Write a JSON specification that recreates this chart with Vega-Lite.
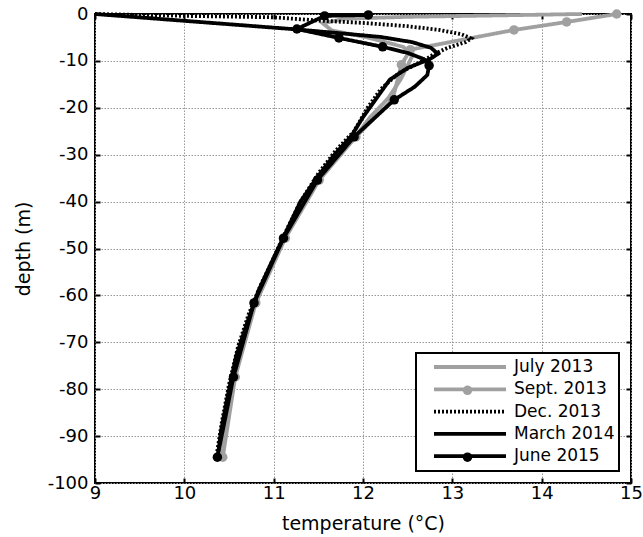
{
  "$schema": "https://vega.github.io/schema/vega-lite/v6.json",
  "width": 536,
  "height": 469,
  "autosize": {"type": "none"},
  "padding": {"left": 95, "top": 14, "right": 12, "bottom": 54},
  "background": "white",
  "datasets": {
    "profiles": [
      {"series": "July 2013", "temp": 14.45, "depth": 0},
      {"series": "July 2013", "temp": 13.5, "depth": -0.3},
      {"series": "July 2013", "temp": 12.5, "depth": -0.6},
      {"series": "July 2013", "temp": 11.8, "depth": -1.0},
      {"series": "July 2013", "temp": 11.55, "depth": -2.0},
      {"series": "July 2013", "temp": 11.65, "depth": -3.5},
      {"series": "July 2013", "temp": 12.05, "depth": -5.0},
      {"series": "July 2013", "temp": 12.45, "depth": -7.0},
      {"series": "July 2013", "temp": 12.55, "depth": -9.0},
      {"series": "July 2013", "temp": 12.5, "depth": -11},
      {"series": "July 2013", "temp": 12.42, "depth": -14},
      {"series": "July 2013", "temp": 12.28, "depth": -18},
      {"series": "July 2013", "temp": 12.08, "depth": -22},
      {"series": "July 2013", "temp": 11.92, "depth": -26},
      {"series": "July 2013", "temp": 11.72, "depth": -30},
      {"series": "July 2013", "temp": 11.52, "depth": -35},
      {"series": "July 2013", "temp": 11.33, "depth": -40},
      {"series": "July 2013", "temp": 11.14, "depth": -47},
      {"series": "July 2013", "temp": 11.04, "depth": -51},
      {"series": "July 2013", "temp": 10.88, "depth": -58},
      {"series": "July 2013", "temp": 10.75, "depth": -64},
      {"series": "July 2013", "temp": 10.63, "depth": -71},
      {"series": "July 2013", "temp": 10.53, "depth": -79},
      {"series": "July 2013", "temp": 10.46, "depth": -87},
      {"series": "July 2013", "temp": 10.43, "depth": -93},
      {"series": "July 2013", "temp": 10.43, "depth": -95},
      {"series": "Sept. 2013", "temp": 14.84, "depth": 0},
      {"series": "Sept. 2013", "temp": 14.28, "depth": -1.7},
      {"series": "Sept. 2013", "temp": 13.69, "depth": -3.4},
      {"series": "Sept. 2013", "temp": 12.53, "depth": -7.6},
      {"series": "Sept. 2013", "temp": 12.43, "depth": -10.8},
      {"series": "Sept. 2013", "temp": 12.33, "depth": -18.3},
      {"series": "Sept. 2013", "temp": 11.92, "depth": -26.2},
      {"series": "Sept. 2013", "temp": 11.51, "depth": -35.4},
      {"series": "Sept. 2013", "temp": 11.13, "depth": -47.8},
      {"series": "Sept. 2013", "temp": 10.8, "depth": -61.6},
      {"series": "Sept. 2013", "temp": 10.57, "depth": -77.4},
      {"series": "Sept. 2013", "temp": 10.43, "depth": -94.5},
      {"series": "Dec. 2013", "temp": 9.0, "depth": 0},
      {"series": "Dec. 2013", "temp": 10.0, "depth": -0.4},
      {"series": "Dec. 2013", "temp": 11.0, "depth": -0.7},
      {"series": "Dec. 2013", "temp": 11.5, "depth": -1.4},
      {"series": "Dec. 2013", "temp": 12.0, "depth": -1.9},
      {"series": "Dec. 2013", "temp": 12.5, "depth": -2.6},
      {"series": "Dec. 2013", "temp": 12.85, "depth": -3.4},
      {"series": "Dec. 2013", "temp": 13.1, "depth": -4.3},
      {"series": "Dec. 2013", "temp": 13.21, "depth": -5.2},
      {"series": "Dec. 2013", "temp": 13.15, "depth": -6.0},
      {"series": "Dec. 2013", "temp": 12.95, "depth": -7.2},
      {"series": "Dec. 2013", "temp": 12.8, "depth": -8.5},
      {"series": "Dec. 2013", "temp": 12.69, "depth": -9.8},
      {"series": "Dec. 2013", "temp": 12.4, "depth": -12.6},
      {"series": "Dec. 2013", "temp": 12.2, "depth": -16},
      {"series": "Dec. 2013", "temp": 12.05, "depth": -20},
      {"series": "Dec. 2013", "temp": 11.9, "depth": -25},
      {"series": "Dec. 2013", "temp": 11.7, "depth": -29},
      {"series": "Dec. 2013", "temp": 11.5, "depth": -34},
      {"series": "Dec. 2013", "temp": 11.3, "depth": -40},
      {"series": "Dec. 2013", "temp": 11.12, "depth": -47},
      {"series": "Dec. 2013", "temp": 11.0, "depth": -52},
      {"series": "Dec. 2013", "temp": 10.85, "depth": -58},
      {"series": "Dec. 2013", "temp": 10.72, "depth": -64},
      {"series": "Dec. 2013", "temp": 10.6, "depth": -71},
      {"series": "Dec. 2013", "temp": 10.5, "depth": -79},
      {"series": "Dec. 2013", "temp": 10.42, "depth": -87},
      {"series": "Dec. 2013", "temp": 10.37, "depth": -93},
      {"series": "Dec. 2013", "temp": 10.36, "depth": -95},
      {"series": "March 2014", "temp": 9.0, "depth": 0},
      {"series": "March 2014", "temp": 10.1, "depth": -1.6},
      {"series": "March 2014", "temp": 11.2, "depth": -3.2},
      {"series": "March 2014", "temp": 11.8, "depth": -4.2},
      {"series": "March 2014", "temp": 12.2, "depth": -4.9},
      {"series": "March 2014", "temp": 12.55, "depth": -6.0},
      {"series": "March 2014", "temp": 12.76, "depth": -7.2},
      {"series": "March 2014", "temp": 12.84, "depth": -8.5},
      {"series": "March 2014", "temp": 12.75, "depth": -9.6},
      {"series": "March 2014", "temp": 12.5, "depth": -11.5},
      {"series": "March 2014", "temp": 12.3, "depth": -14},
      {"series": "March 2014", "temp": 12.15, "depth": -18},
      {"series": "March 2014", "temp": 12.0, "depth": -22},
      {"series": "March 2014", "temp": 11.87, "depth": -26},
      {"series": "March 2014", "temp": 11.68, "depth": -30},
      {"series": "March 2014", "temp": 11.48, "depth": -35},
      {"series": "March 2014", "temp": 11.3, "depth": -40},
      {"series": "March 2014", "temp": 11.1, "depth": -48},
      {"series": "March 2014", "temp": 11.0, "depth": -52},
      {"series": "March 2014", "temp": 10.83, "depth": -59},
      {"series": "March 2014", "temp": 10.7, "depth": -66},
      {"series": "March 2014", "temp": 10.58, "depth": -73},
      {"series": "March 2014", "temp": 10.49, "depth": -81},
      {"series": "March 2014", "temp": 10.41, "depth": -89},
      {"series": "March 2014", "temp": 10.37, "depth": -95},
      {"series": "June 2015", "temp": 12.06, "depth": -0.2},
      {"series": "June 2015", "temp": 11.57, "depth": -0.4},
      {"series": "June 2015", "temp": 11.26, "depth": -3.2},
      {"series": "June 2015", "temp": 11.73, "depth": -5.1},
      {"series": "June 2015", "temp": 12.22, "depth": -7.0},
      {"series": "June 2015", "temp": 12.5, "depth": -8.3},
      {"series": "June 2015", "temp": 12.68, "depth": -9.6},
      {"series": "June 2015", "temp": 12.74, "depth": -11.0},
      {"series": "June 2015", "temp": 12.72, "depth": -13.0},
      {"series": "June 2015", "temp": 12.58, "depth": -15.5},
      {"series": "June 2015", "temp": 12.35, "depth": -18.3},
      {"series": "June 2015", "temp": 11.9, "depth": -26.2},
      {"series": "June 2015", "temp": 11.49, "depth": -35.4},
      {"series": "June 2015", "temp": 11.11, "depth": -47.8},
      {"series": "June 2015", "temp": 10.78, "depth": -61.6},
      {"series": "June 2015", "temp": 10.55, "depth": -77.4},
      {"series": "June 2015", "temp": 10.37, "depth": -94.5}
    ]
  },
  "data": {"name": "profiles"},
  "layer": [
    {
      "transform": [{"filter": {"field": "series", "oneOf": ["July 2013", "Sept. 2013"]}}],
      "mark": {"type": "line", "strokeWidth": 3.8},
      "encoding": {
        "x": {
          "field": "temp", "type": "quantitative",
          "scale": {"domain": [9, 15], "nice": false, "zero": false},
          "axis": {
            "orient": "bottom", "values": [9, 10, 11, 12, 13, 14, 15],
            "grid": true, "gridDash": [1.5, 1.5], "gridColor": "#999999", "gridWidth": 1,
            "domain": false, "ticks": true, "tickSize": -5, "tickWidth": 2, "tickColor": "black",
            "labelFont": "DejaVu Sans", "labelFontSize": 18, "labelColor": "black",
            "labelPadding": 6, "labelFlush": false, "labelOverlap": false,
            "title": "temperature (°C)", "titleFont": "DejaVu Sans", "titleFontSize": 19,
            "titleFontWeight": "normal", "titleColor": "black",
            "titleX": 268, "titleY": 46, "titleBaseline": "alphabetic"
          }
        },
        "y": {
          "field": "depth", "type": "quantitative",
          "scale": {"domain": [-100, 0], "nice": false, "zero": false},
          "axis": {
            "orient": "left", "values": [-100, -90, -80, -70, -60, -50, -40, -30, -20, -10, 0],
            "grid": true, "gridDash": [1.5, 1.5], "gridColor": "#999999", "gridWidth": 1,
            "domain": false, "ticks": true, "tickSize": -5, "tickWidth": 2, "tickColor": "black",
            "labelFont": "DejaVu Sans", "labelFontSize": 18, "labelColor": "black",
            "labelPadding": 12, "labelFlush": false, "labelOverlap": false,
            "labelExpr": "'' + datum.value",
            "title": "depth (m)", "titleFont": "DejaVu Sans", "titleFontSize": 19,
            "titleFontWeight": "normal", "titleColor": "black",
            "titleX": -66, "titleY": 234.5, "titleBaseline": "alphabetic", "titleAngle": -90
          }
        },
        "color": {
          "field": "series", "type": "nominal",
          "scale": {"domain": ["July 2013", "Sept. 2013", "Dec. 2013", "March 2014", "June 2015"], "range": ["#a0a0a0", "#a0a0a0", "#000000", "#000000", "#000000"]},
          "legend": {"title": null, "orient": "bottom-right", "offset": 12, "symbolType": "stroke", "symbolSize": 5184, "symbolStrokeWidth": 3.8, "clipHeight": 20, "rowPadding": 2.3, "labelFontSize": 17, "labelFont": "DejaVu Sans", "labelColor": "black", "labelOffset": 6, "padding": 4, "symbolOffset": 12, "strokeColor": "black", "fillColor": "white", "cornerRadius": 0, "labelLimit": 300}
        },
        "strokeDash": {
          "field": "series", "type": "nominal",
          "scale": {"domain": ["July 2013", "Sept. 2013", "Dec. 2013", "March 2014", "June 2015"], "range": [[1, 0], [1, 0], [2, 2], [1, 0], [1, 0]]},
          "legend": {"title": null, "orient": "bottom-right", "offset": 12, "symbolType": "stroke", "symbolSize": 5184, "symbolStrokeWidth": 3.8, "clipHeight": 20, "rowPadding": 2.3, "labelFontSize": 17, "labelFont": "DejaVu Sans", "labelColor": "black", "labelOffset": 6, "padding": 4, "symbolOffset": 12, "strokeColor": "black", "fillColor": "white", "cornerRadius": 0, "labelLimit": 300}
        },
        "order": {"field": "depth", "sort": "descending"}
      }
    },
    {
      "transform": [{"filter": {"field": "series", "equal": "Sept. 2013"}}],
      "mark": {"type": "circle", "size": 90, "opacity": 1},
      "encoding": {
        "x": {
          "field": "temp", "type": "quantitative",
          "axis": {"orient": "top", "values": [9, 10, 11, 12, 13, 14, 15], "labels": false, "grid": false, "domain": false, "ticks": true, "tickSize": -5, "tickWidth": 2, "tickColor": "black", "title": null}
        },
        "y": {
          "field": "depth", "type": "quantitative",
          "axis": {"orient": "right", "values": [-100, -90, -80, -70, -60, -50, -40, -30, -20, -10, 0], "labels": false, "grid": false, "domain": false, "ticks": true, "tickSize": -5, "tickWidth": 2, "tickColor": "black", "title": null}
        },
        "fill": {
          "field": "series", "type": "nominal",
          "scale": {"domain": ["July 2013", "Sept. 2013", "Dec. 2013", "March 2014", "June 2015"], "range": ["transparent", "#a0a0a0", "transparent", "transparent", "#000000"]},
          "legend": {"title": null, "orient": "none", "legendX": 364, "legendY": 344, "symbolType": "circle", "symbolSize": 90, "symbolStrokeWidth": 0, "symbolOpacity": 1, "clipHeight": 20, "rowPadding": 2.3, "labelExpr": "''", "labelOpacity": 0, "labelFontSize": 17, "padding": 0}
        }
      }
    },
    {
      "transform": [{"filter": {"field": "series", "oneOf": ["Dec. 2013", "March 2014", "June 2015"]}}],
      "mark": {"type": "line", "strokeWidth": 3.8},
      "encoding": {
        "x": {"field": "temp", "type": "quantitative", "axis": null},
        "y": {"field": "depth", "type": "quantitative", "axis": null},
        "color": {
          "field": "series", "type": "nominal",
          "scale": {"domain": ["July 2013", "Sept. 2013", "Dec. 2013", "March 2014", "June 2015"], "range": ["#a0a0a0", "#a0a0a0", "#000000", "#000000", "#000000"]},
          "legend": {"title": null, "orient": "bottom-right", "offset": 12, "symbolType": "stroke", "symbolSize": 5184, "symbolStrokeWidth": 3.8, "clipHeight": 20, "rowPadding": 2.3, "labelFontSize": 17, "labelFont": "DejaVu Sans", "labelColor": "black", "labelOffset": 6, "padding": 4, "symbolOffset": 12, "strokeColor": "black", "fillColor": "white", "cornerRadius": 0, "labelLimit": 300}
        },
        "strokeDash": {
          "field": "series", "type": "nominal",
          "scale": {"domain": ["July 2013", "Sept. 2013", "Dec. 2013", "March 2014", "June 2015"], "range": [[1, 0], [1, 0], [2, 2], [1, 0], [1, 0]]},
          "legend": {"title": null, "orient": "bottom-right", "offset": 12, "symbolType": "stroke", "symbolSize": 5184, "symbolStrokeWidth": 3.8, "clipHeight": 20, "rowPadding": 2.3, "labelFontSize": 17, "labelFont": "DejaVu Sans", "labelColor": "black", "labelOffset": 6, "padding": 4, "symbolOffset": 12, "strokeColor": "black", "fillColor": "white", "cornerRadius": 0, "labelLimit": 300}
        },
        "order": {"field": "depth", "sort": "descending"}
      }
    },
    {
      "transform": [
        {"filter": {"field": "series", "equal": "June 2015"}},
        {"filter": {"field": "depth", "oneOf": [-0.2, -0.4, -3.2, -5.1, -7.0, -11.0, -18.3, -26.2, -35.4, -47.8, -61.6, -77.4, -94.5]}}
      ],
      "mark": {"type": "circle", "size": 90, "opacity": 1},
      "encoding": {
        "x": {"field": "temp", "type": "quantitative", "axis": null},
        "y": {"field": "depth", "type": "quantitative", "axis": null},
        "fill": {
          "field": "series", "type": "nominal",
          "scale": {"domain": ["July 2013", "Sept. 2013", "Dec. 2013", "March 2014", "June 2015"], "range": ["transparent", "#a0a0a0", "transparent", "transparent", "#000000"]},
          "legend": {"title": null, "orient": "none", "legendX": 364, "legendY": 344, "symbolType": "circle", "symbolSize": 90, "symbolStrokeWidth": 0, "symbolOpacity": 1, "clipHeight": 20, "rowPadding": 2.3, "labelExpr": "''", "labelOpacity": 0, "labelFontSize": 17, "padding": 0}
        }
      }
    }
  ],
  "resolve": {"axis": {"x": "independent", "y": "independent"}},
  "config": {
    "view": {"stroke": "black", "strokeWidth": 2},
    "legend": {"strokeWidth": 2},
    "font": "DejaVu Sans"
  }
}
